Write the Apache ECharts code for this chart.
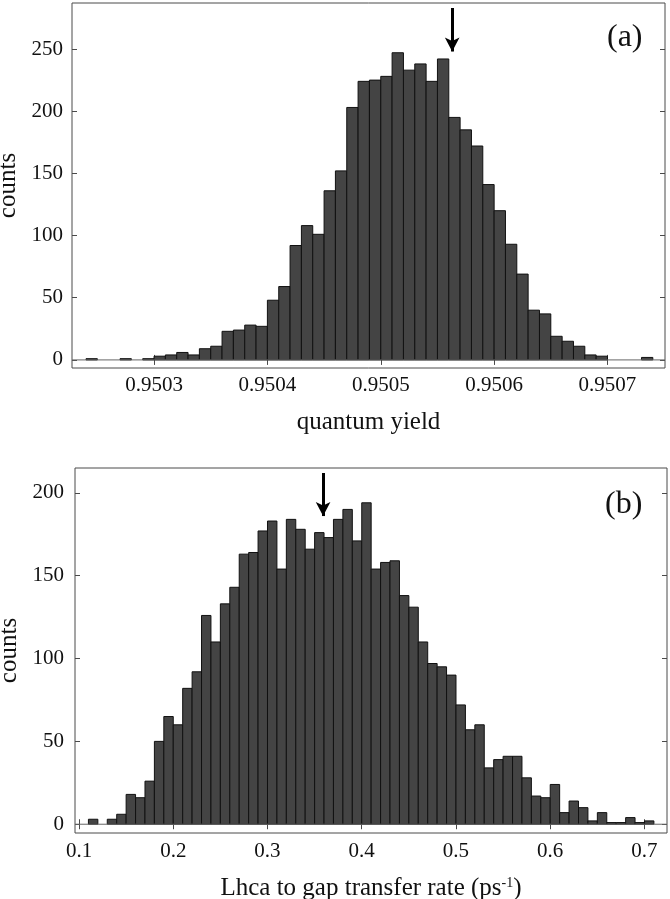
<!DOCTYPE html>
<html>
<head>
<meta charset="utf-8">
<script src="https://cdn.jsdelivr.net/npm/echarts@6/dist/echarts.min.js"></script>
<style>
html,body{margin:0;padding:0;background:#fff;}
#chart{width:670px;height:899px;}
</style>
</head>
<body>
<div id="chart"></div>
<script>
// ---------- Panel (a): quantum yield ----------
const binStartA = 0.95024;
const binWidthA = 0.00001;
const countsA = [1,0,0,1,0,1,3,4,6,4,9,11,23,24,28,27,48,59,92,108,101,136,152,203,224,225,228,247,233,238,224,242,195,185,172,141,120,93,69,40,37,19,15,11,4,3,0,0,0,2];
const xTicksA = [0.9503,0.9504,0.9505,0.9506,0.9507];
const yTicksA = [0,50,100,150,200,250];
const xRangeA = [0.95022763, 0.95075073];
const yRangeA = [-6.5, 287];
const arrowA = {x: 0.950563, yTop: 283, yTip: 248};
const xNameA = 'quantum yield';
const tagA = '(a)';

// ---------- Panel (b): transfer rate ----------
const binStartB = 0.11;
const binWidthB = 0.01;
const countsB = [3,0,3,6,18,16,26,50,65,60,82,92,126,110,133,143,163,164,177,183,154,184,178,166,176,173,184,190,171,194,154,158,159,138,131,110,97,95,90,72,57,60,34,39,41,41,28,17,16,24,7,14,10,2,7,1,1,4,1,2];
const xTicksB = [0.1,0.2,0.3,0.4,0.5,0.6,0.7];
const yTicksB = [0,50,100,150,200];
const xRangeB = [0.09575, 0.7239];
const yRangeB = [-5.3, 215];
const arrowB = {x: 0.359, yTop: 212, yTip: 186};
const xNameB = 'Lhca to gap transfer rate (ps{sup|-1})';
const tagB = '(b)';

const FONT = "'Liberation Serif','Times New Roman',serif";
const FRAME = '#4a4a4a';

function bins(start, width, counts) {
  return counts.map((c, i) => {
    const l = +(start + i * width).toFixed(8);
    const r = +(start + (i + 1) * width).toFixed(8);
    return [l, r, c];
  });
}

function renderBar(params, api) {
  const p0 = api.coord([api.value(0), 0]);
  const p1 = api.coord([api.value(1), api.value(2)]);
  const h = p0[1] - p1[1];
  if (h <= 0) return null;
  return {
    type: 'rect',
    shape: {x: p0[0], y: p1[1], width: p1[0] - p0[0], height: h},
    style: {fill: '#444444', stroke: '#111111', lineWidth: 1}
  };
}

const chart = echarts.init(document.getElementById('chart'), null, {renderer: 'canvas'});

function xAxes(gi, range, ticks, name, decimals, labelMargin, nameGap) {
  return [
    {
      type: 'value', gridIndex: gi, position: 'bottom', min: range[0], max: range[1],
      splitLine: {show: false}, axisLine: {show: false},
      axisTick: {show: true, inside: true, length: 5, customValues: ticks, lineStyle: {color: FRAME}},
      axisLabel: {show: true, customValues: ticks, margin: labelMargin, fontFamily: FONT, fontSize: 21, color: '#111',
        formatter: v => Number(v).toFixed(decimals)},
      name: name, nameLocation: 'middle', nameGap: nameGap,
      nameTextStyle: {fontFamily: FONT, fontSize: 25, color: '#111',
        rich: {sup: {fontFamily: FONT, fontSize: 14, color: '#111', verticalAlign: 'top', lineHeight: 25}}}
    },
    {
      type: 'value', gridIndex: gi, position: 'top', min: range[0], max: range[1],
      splitLine: {show: false}, axisLine: {show: false},
      axisTick: {show: true, inside: true, length: 5, customValues: ticks, lineStyle: {color: FRAME}},
      axisLabel: {show: false}
    }
  ];
}
function yAxes(gi, range, ticks, labelMargin, nameGap) {
  return [
    {
      type: 'value', gridIndex: gi, position: 'left', min: range[0], max: range[1],
      splitLine: {show: false}, axisLine: {show: false},
      axisTick: {show: true, inside: true, length: 5, customValues: ticks, lineStyle: {color: FRAME}},
      axisLabel: {show: true, customValues: ticks, margin: labelMargin, fontFamily: FONT, fontSize: 21, color: '#111'},
      name: 'counts', nameLocation: 'middle', nameGap: nameGap, nameRotate: 90,
      nameTextStyle: {fontFamily: FONT, fontSize: 25, color: '#111'}
    },
    {
      type: 'value', gridIndex: gi, position: 'right', min: range[0], max: range[1],
      splitLine: {show: false}, axisLine: {show: false},
      axisTick: {show: true, inside: true, length: 5, customValues: ticks, lineStyle: {color: FRAME}},
      axisLabel: {show: false}
    }
  ];
}

function seriesFor(xi, yi, data, xRange, arrow) {
  return [
    {
      type: 'custom', xAxisIndex: xi, yAxisIndex: yi,
      renderItem: renderBar, data: data, encode: {x: [0, 1], y: 2},
      silent: true, animation: false, clip: true
    },
    {
      type: 'line', xAxisIndex: xi, yAxisIndex: yi, symbol: 'none', silent: true, animation: false,
      data: [[xRange[0], 0], [xRange[1], 0]],
      lineStyle: {color: '#666', width: 1}, z: 3
    },
    {
      type: 'line', xAxisIndex: xi, yAxisIndex: yi, symbol: 'none', silent: true, animation: false,
      data: [],
      markLine: {
        silent: true, animation: false,
        symbol: ['none', 'arrow'], symbolSize: [11, 14],
        label: {show: false},
        lineStyle: {color: '#000', width: 3, type: 'solid'},
        data: [[{coord: [arrow.x, arrow.yTop]}, {coord: [arrow.x, arrow.yTip]}]]
      }
    }
  ];
}

const option = {
  animation: false,
  backgroundColor: '#fff',
  grid: [
    {left: 72, right: 5, top: 3, height: 365, containLabel: false, outerBoundsMode: 'none', show: true, borderColor: FRAME, borderWidth: 1, backgroundColor: 'transparent'},
    {left: 75, right: 3, top: 468, height: 365, containLabel: false, outerBoundsMode: 'none', show: true, borderColor: FRAME, borderWidth: 1, backgroundColor: 'transparent'}
  ],
  xAxis: [
    ...xAxes(0, xRangeA, xTicksA, xNameA, 4, 7, 42),
    ...xAxes(1, xRangeB, xTicksB, xNameB, 1, 8, 43)
  ],
  yAxis: [
    ...yAxes(0, yRangeA, yTicksA, 9, 48),
    ...yAxes(1, yRangeB, yTicksB, 11, 50)
  ],
  graphic: [
    {type: 'text', left: 607, top: 22, style: {text: tagA, font: "32px 'Liberation Serif','Times New Roman',serif", fill: '#111'}},
    {type: 'text', left: 605, top: 489, style: {text: tagB, font: "32px 'Liberation Serif','Times New Roman',serif", fill: '#111'}}
  ],
  series: [
    ...seriesFor(0, 0, bins(binStartA, binWidthA, countsA), xRangeA, arrowA),
    ...seriesFor(2, 2, bins(binStartB, binWidthB, countsB), xRangeB, arrowB)
  ]
};
chart.setOption(option);
</script>
</body>
</html>
